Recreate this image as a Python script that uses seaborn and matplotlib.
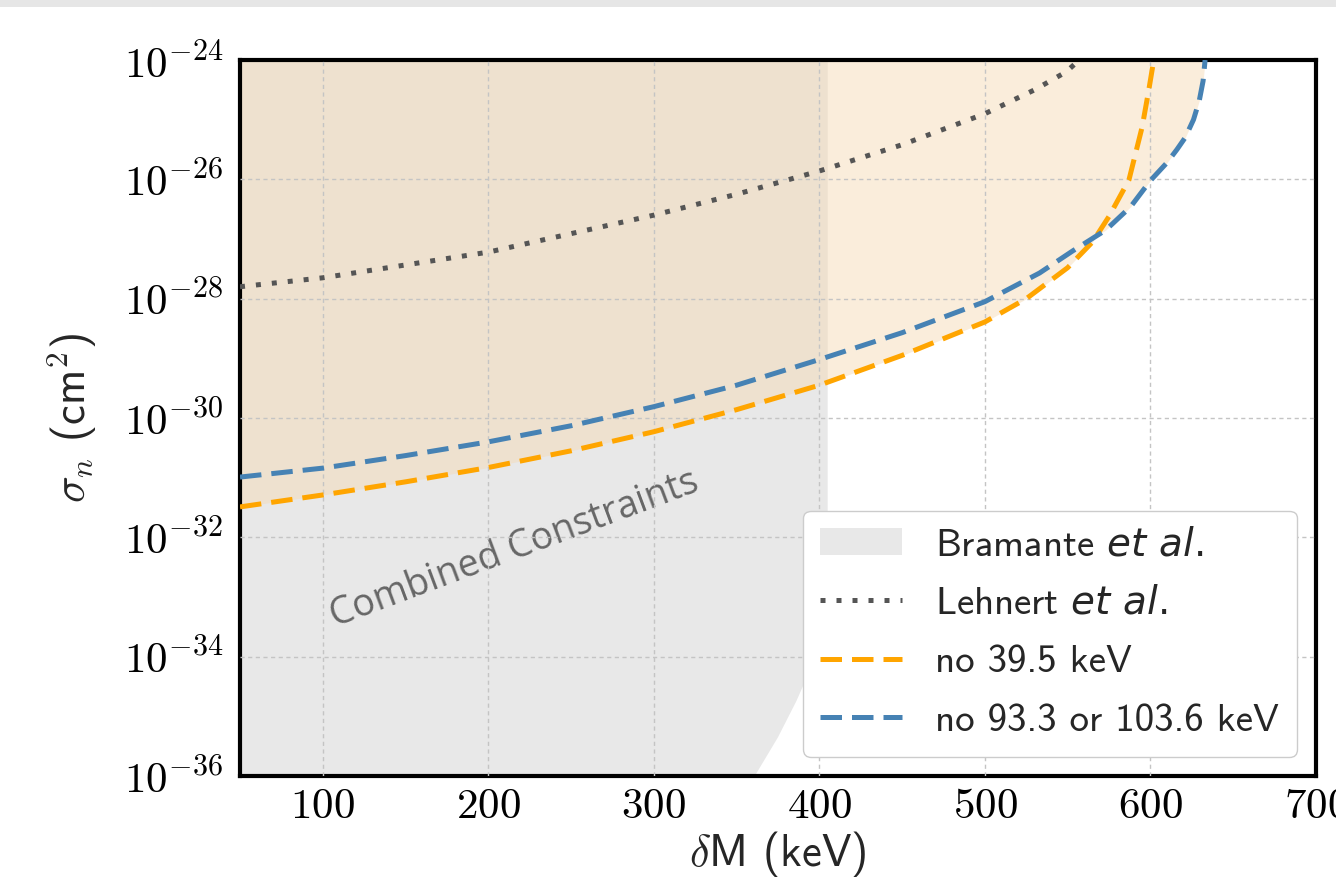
import numpy as np
import matplotlib
matplotlib.use('Agg')
import matplotlib.pyplot as plt
import seaborn as sns
from matplotlib.patches import Patch, Rectangle
from matplotlib.lines import Line2D
from matplotlib.ticker import FixedLocator, FuncFormatter, NullLocator

# ---------------- data ----------------
orange_mass = [50, 100, 150, 200, 250, 300, 350, 400, 450, 500, 525, 550, 565, 575, 587, 595, 599, 602]
orange_log_sigma = [-31.49, -31.29, -31.07, -30.83, -30.55, -30.23, -29.86, -29.45, -28.95, -28.39,
                    -28.00, -27.48, -27.05, -26.62, -26.01, -25.12, -24.50, -24.00]

blue_mass = [50, 100, 150, 200, 250, 300, 350, 400, 450, 500, 533, 553, 573, 588, 600, 610, 616,
             621, 626, 629.5, 631.8, 633]
blue_log_sigma = [-30.99, -30.84, -30.63, -30.40, -30.13, -29.81, -29.45, -29.02, -28.57, -28.05,
                  -27.57, -27.20, -26.85, -26.46, -26.02, -25.72, -25.50, -25.30, -25.00, -24.68,
                  -24.35, -24.00]

lehnert_mass = [50, 100, 200, 300, 350, 400, 450, 500, 530, 549, 557]
lehnert_log_sigma = [-27.80, -27.65, -27.22, -26.60, -26.25, -25.86, -25.42, -24.90, -24.50, -24.20,
                     -24.00]

bramante_mass = [50, 361, 375, 386, 394, 405, 405, 50]
bramante_log_sigma = [-36.0, -36.0, -35.35, -34.75, -34.25, -33.6, -24.0, -24.0]

x_ticks = [100, 200, 300, 400, 500, 600, 700]
y_tick_exponents = [-36, -34, -32, -30, -28, -26, -24]

legend_labels = [r'Bramante $\mathit{et\ al.}$', r'Lehnert $\mathit{et\ al.}$',
                 'no 39.5 keV', 'no 93.3 or 103.6 keV']
annotation = 'Combined Constraints'

# ---------------- style ----------------
sns.set_style('white')
plt.rcParams['font.family'] = ['cmss10', 'DejaVu Sans']
plt.rcParams['mathtext.fontset'] = 'cm'
plt.rcParams['axes.unicode_minus'] = False

C_ORANGE = '#FFA500'
C_BLUE = '#4682B4'
C_DOT = '#555555'
C_GREY = '#e8e8e8'
C_BEIGE = (245 / 255, 218 / 255, 180 / 255)

fig = plt.figure(figsize=(13.36, 8.92), dpi=100)
ax = fig.add_axes([240 / 1336, 1 - 776 / 892, (1316 - 240) / 1336, (776 - 60) / 892])
ax.set_yscale('log')
ax.set_xlim(50, 700)
ax.set_ylim(1e-36, 1e-24)

# Bramante region
ax.fill(bramante_mass, 10 ** np.array(bramante_log_sigma), color=C_GREY, lw=0, zorder=1)

# excluded region (union of the two exclusion curves)
xg = np.linspace(50, 700, 4000)
env = np.minimum(np.interp(xg, orange_mass, orange_log_sigma, right=-24),
                 np.interp(xg, blue_mass, blue_log_sigma, right=-24))
ax.fill_between(xg, 10 ** env, 1e-24, color=C_BEIGE, alpha=0.48, lw=0, zorder=1.5)

# curves
lw = 3.6
sns.lineplot(x=lehnert_mass, y=10 ** np.array(lehnert_log_sigma), ax=ax, color=C_DOT,
             lw=lw, sort=False, zorder=3)
ax.lines[-1].set_dashes((1, 2.2))
sns.lineplot(x=orange_mass, y=10 ** np.array(orange_log_sigma), ax=ax, color=C_ORANGE,
             lw=lw, sort=False, zorder=3)
ax.lines[-1].set_dashes((4.3, 2.0))
sns.lineplot(x=blue_mass, y=10 ** np.array(blue_log_sigma), ax=ax, color=C_BLUE,
             lw=lw, sort=False, zorder=3)
ax.lines[-1].set_dashes((4.3, 2.0))

ax.text(216, 10 ** -32.2, annotation, rotation=20.5, ha='center', va='center',
        rotation_mode='anchor', fontsize=27, color='#666666', family='Open Sans', zorder=2)

# axes / ticks
ax.set_axisbelow(False)
ax.xaxis.set_major_locator(FixedLocator(x_ticks))
ax.xaxis.set_major_formatter(FuncFormatter(lambda v, p: r'$%d$' % round(v)))
ax.yaxis.set_major_locator(FixedLocator([10.0 ** e for e in y_tick_exponents]))
ax.yaxis.set_major_formatter(FuncFormatter(lambda v, p: r'$10^{%d}$' % round(np.log10(v))))
ax.yaxis.set_minor_locator(NullLocator())
ax.xaxis.set_minor_locator(NullLocator())
ax.grid(True, which='major', color='#c4c4c4', lw=1.0, dashes=(3, 2.5))
ygl = ax.get_ygridlines()
ygl[0].set_visible(False)
ygl[-1].set_visible(False)
ax.get_xgridlines()[-1].set_visible(False)
ax.tick_params(which='major', direction='in', length=7, width=2, top=False, right=False,
               labelsize=31, colors='black')
ax.tick_params(axis='x', pad=9)
ax.tick_params(axis='y', pad=12)
for s in ax.spines.values():
    s.set_linewidth(3)
    s.set_color('black')
    s.set_visible(True)

ax.set_xlabel(r'$\delta$M (keV)', fontsize=32, labelpad=2)
ax.set_ylabel(r'$\sigma_n$ (cm$^2$)', fontsize=32, labelpad=18)

handles = [
    Patch(facecolor=C_GREY, edgecolor='none', label=legend_labels[0]),
    Line2D([], [], color=C_DOT, lw=lw, dashes=(1, 2.2), label=legend_labels[1]),
    Line2D([], [], color=C_ORANGE, lw=lw, dashes=(4.3, 2.0), label=legend_labels[2]),
    Line2D([], [], color=C_BLUE, lw=lw, dashes=(4.3, 2.0), label=legend_labels[3]),
]
leg = ax.legend(handles=handles, loc='lower right', fontsize=28, frameon=True, fancybox=True,
                framealpha=1, edgecolor='#cccccc', facecolor='white', handlelength=2.1,
                handletextpad=0.85, labelspacing=0.6, borderpad=0.45, borderaxespad=0.5)
for t in leg.get_texts():
    t.set_math_fontfamily('dejavusans')
leg.set_zorder(5)

fig.patches.append(Rectangle((0, 1 - 7 / 892), 1, 7 / 892, transform=fig.transFigure,
                             facecolor='#e6e6e6', edgecolor='none', zorder=-1))

fig.savefig('out.png', dpi=100)
